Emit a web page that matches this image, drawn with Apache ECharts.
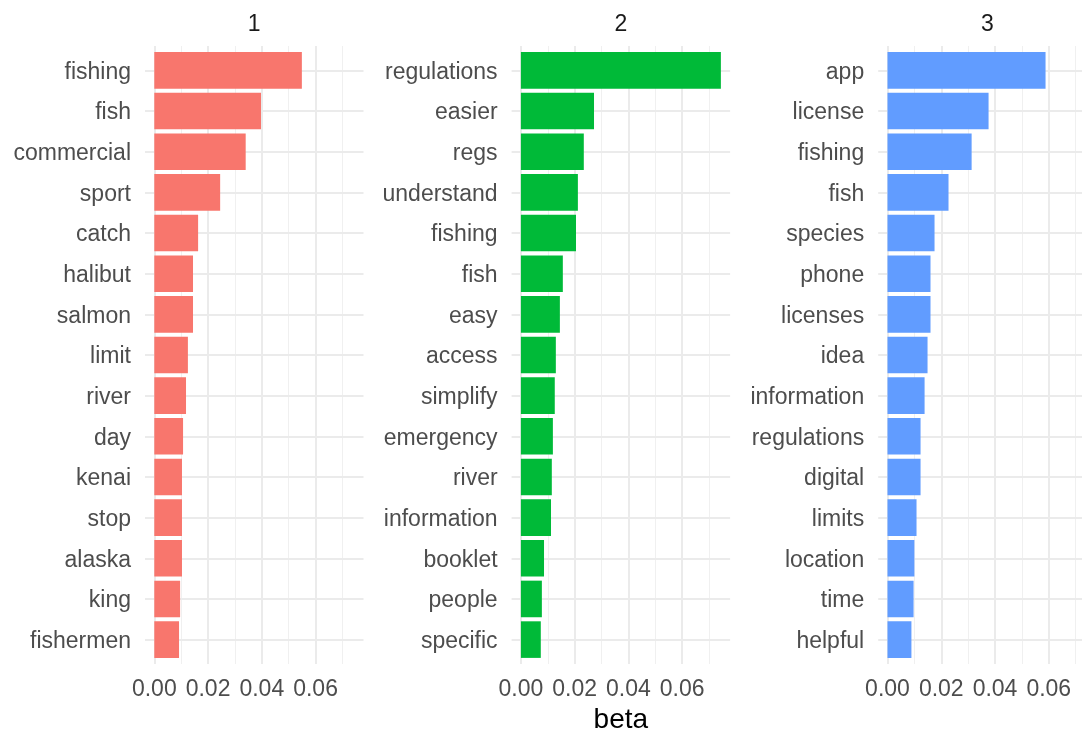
<!DOCTYPE html>
<html>
<head>
<meta charset="utf-8">
<title>Top terms per topic</title>
<script src="https://cdn.jsdelivr.net/npm/echarts@6/dist/echarts.min.js"></script>
<style>
  html, body { margin: 0; padding: 0; background: #ffffff; }
  #chart { width: 1082px; height: 732px; }
</style>
</head>
<body>
<div id="chart"></div>
<script>
// Top 15 terms for each topic, ordered from highest beta (top) to lowest
const topicNames = ['1', '2', '3'];

const terms1 = ['fishing', 'fish', 'commercial', 'sport', 'catch', 'halibut', 'salmon', 'limit',
  'river', 'day', 'kenai', 'stop', 'alaska', 'king', 'fishermen'];
const beta1 = [0.0549, 0.0397, 0.0340, 0.0245, 0.0163, 0.0144, 0.0144, 0.0125,
  0.0118, 0.0107, 0.0103, 0.0103, 0.0103, 0.0096, 0.0092];

const terms2 = ['regulations', 'easier', 'regs', 'understand', 'fishing', 'fish', 'easy', 'access',
  'simplify', 'emergency', 'river', 'information', 'booklet', 'people', 'specific'];
const beta2 = [0.0744, 0.0272, 0.0234, 0.0212, 0.0205, 0.0156, 0.0145, 0.0130,
  0.0126, 0.0119, 0.0115, 0.0112, 0.0086, 0.0078, 0.0074];

const terms3 = ['app', 'license', 'fishing', 'fish', 'species', 'phone', 'licenses', 'idea',
  'information', 'regulations', 'digital', 'limits', 'location', 'time', 'helpful'];
const beta3 = [0.0588, 0.0376, 0.0313, 0.0227, 0.0175, 0.0160, 0.0160, 0.0149,
  0.0138, 0.0123, 0.0123, 0.0108, 0.0100, 0.0097, 0.0089];

const xTickLabels = ['0.00', '0.02', '0.04', '0.06'];

const topicTerms = [terms1, terms2, terms3];
const topicBetas = [beta1, beta2, beta3];
const topicColors = ['#F8766D', '#00BA38', '#619CFF'];

const FONT = '"Liberation Sans", Arial, Helvetica, sans-serif';
const GRID_MAJOR = '#EBEBEB';
const X_MIN = -0.00346, X_MAX = 0.07783;
const panelLefts = [145, 511.6, 878.2];
const PANEL_W = 218.5, PANEL_TOP = 46, PANEL_H = 618;

const chart = echarts.init(document.getElementById('chart'), null, { renderer: 'canvas' });

const grids = [], xAxes = [], yAxes = [], series = [], graphics = [];

topicTerms.forEach((terms, p) => {
  grids.push({
    left: panelLefts[p], top: PANEL_TOP, width: PANEL_W, height: PANEL_H,
    containLabel: false, outerBoundsMode: 'none'
  });

  // major x axis (labels at 0.00, 0.02, ...)
  xAxes.push({
    type: 'value', gridIndex: p, position: 'bottom', min: X_MIN, max: X_MAX,
    minInterval: 0.02, maxInterval: 0.02,
    axisLine: { show: false, onZero: false }, axisTick: { show: false },
    axisLabel: {
      margin: 14, fontSize: 23, color: '#4D4D4D', fontFamily: FONT,
      showMinLabel: true, showMaxLabel: true,
      formatter: v => {
        const k = Math.round(v / 0.02);
        return (Math.abs(v - k * 0.02) < 1e-9 && k >= 0 && k < xTickLabels.length) ? xTickLabels[k] : '';
      }
    },
    splitLine: { show: true, showMinLine: false, showMaxLine: false, lineStyle: { color: GRID_MAJOR, width: 2 } },
    name: p === 1 ? 'beta' : '', nameLocation: 'middle', nameGap: 42,
    nameTextStyle: { fontSize: 28, color: '#000000', fontFamily: FONT }
  });

  yAxes.push({
    type: 'value', gridIndex: p, min: -0.6, max: 14.6, inverse: true,
    minInterval: 1, maxInterval: 1,
    axisLine: { show: false, onZero: false }, axisTick: { show: false },
    axisLabel: {
      margin: 14, fontSize: 23, color: '#4D4D4D', fontFamily: FONT,
      rich: { t: { fontSize: 23, color: '#4D4D4D', fontFamily: FONT, padding: [4, 0, 0, 0] } },
      formatter: v => {
        const i = Math.round(v);
        return (Math.abs(v - i) < 1e-9 && i >= 0 && i < terms.length) ? '{t|' + terms[i] + '}' : '';
      }
    },
    splitLine: { show: true, showMinLine: false, showMaxLine: false, lineStyle: { color: GRID_MAJOR, width: 2 } }
  });

  const color = topicColors[p];
  series.push({
    type: 'custom', xAxisIndex: p, yAxisIndex: p,
    encode: { x: 0, y: 1 },
    data: topicBetas[p].map((b, i) => [b, i]),
    renderItem: (params, api) => {
      const v = api.value(0), i = api.value(1);
      const end = api.coord([v, i]);
      const start = api.coord([0, i]);
      const h = api.size([0, 0.9])[1];
      return {
        type: 'rect',
        shape: { x: start[0], y: end[1] - h / 2, width: end[0] - start[0], height: h },
        style: { fill: color }
      };
    },
    z: 3
  });

  graphics.push({
    type: 'text', x: panelLefts[p] + PANEL_W / 2, y: 25,
    style: { text: topicNames[p], fontSize: 23, fill: '#1A1A1A', fontFamily: FONT, align: 'center', verticalAlign: 'middle' }
  });
});

// minor vertical grid lines at 0.01, 0.03, ...
topicTerms.forEach((terms, p) => {
  xAxes.push({
    type: 'value', gridIndex: p, position: 'top', min: X_MIN, max: X_MAX,
    minInterval: 0.01, maxInterval: 0.01,
    axisLine: { show: false, onZero: false }, axisTick: { show: false }, axisLabel: { show: false },
    splitLine: { show: true, showMinLine: false, showMaxLine: false, lineStyle: { color: '#F0F0F0', width: 1 } },
    z: -1
  });
});

chart.setOption({
  backgroundColor: '#ffffff',
  animation: false,
  grid: grids,
  xAxis: xAxes,
  yAxis: yAxes,
  series: series,
  graphic: graphics
});
</script>
</body>
</html>
